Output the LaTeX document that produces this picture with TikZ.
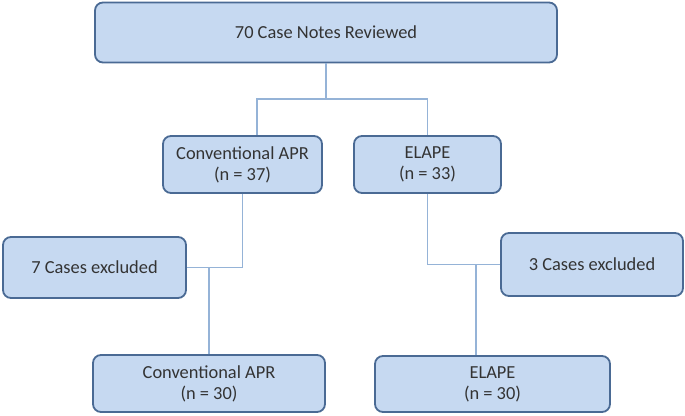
\documentclass[tikz,border=0pt]{standalone}
\usepackage{fontspec}
\setmainfont{Carlito}
\usepackage{xcolor}
\usepackage{tikz}
\usetikzlibrary{positioning}

\definecolor{boxfill}{HTML}{C6D9F1}
\definecolor{boxline}{HTML}{4A6A94}
\definecolor{linkline}{HTML}{95B3D7}

\begin{document}
\begin{tikzpicture}[
  x=1pt, y=-1pt,
  box/.style={draw=boxline, line width=1.8pt, fill=boxfill, rounded corners=8pt, inner sep=0pt, align=center, font=\fontsize{18.4}{21}\selectfont, text=black!80},
  link/.style={draw=linkline, line width=1.2pt},
]

  \useasboundingbox (0,0) rectangle (685,415);

  % Reviewed
  \node[box, minimum width=462pt, minimum height=60pt] (top) at (326,32.5) {70 Case Notes Reviewed};

  % Groups
  \node[box, minimum width=159pt, minimum height=57pt] (conv) at (242.5,164.5) {Conventional APR\\(n = 37)};
  \node[box, minimum width=147pt, minimum height=57pt] (elape) at (427.5,164.5) {ELAPE\\(n = 33)};

  % Exclusions
  \node[box, minimum width=183pt, minimum height=61pt] (excl7) at (94.5,267.5) {7 Cases excluded};
  \node[box, minimum width=182pt, minimum height=63pt] (excl3) at (592,264.5) {3 Cases excluded};

  % Final groups
  \node[box, minimum width=232pt, minimum height=57pt] (convb) at (209,383.5) {Conventional APR\\(n = 30)};
  \node[box, minimum width=235pt, minimum height=56pt] (elapeb) at (492.5,384) {ELAPE\\(n = 30)};

  % Split
  \coordinate (split) at (326,99);
  \draw[link] (top.south) -- (split);
  \draw[link] (split) -| ([xshift=14.5pt]conv.north);
  \draw[link] (split) -| (elape.north);

  % Left branch
  \draw[link] (conv.south) |- (excl7.east);
  \draw[link] (convb.north) -- (convb.north |- excl7.east);

  % Right branch
  \draw[link] (elape.south) |- (excl3.west);
  \draw[link] ([xshift=-16.5pt]elapeb.north) -- ([xshift=-16.5pt]elapeb.north |- excl3.west);

\end{tikzpicture}
\end{document}
